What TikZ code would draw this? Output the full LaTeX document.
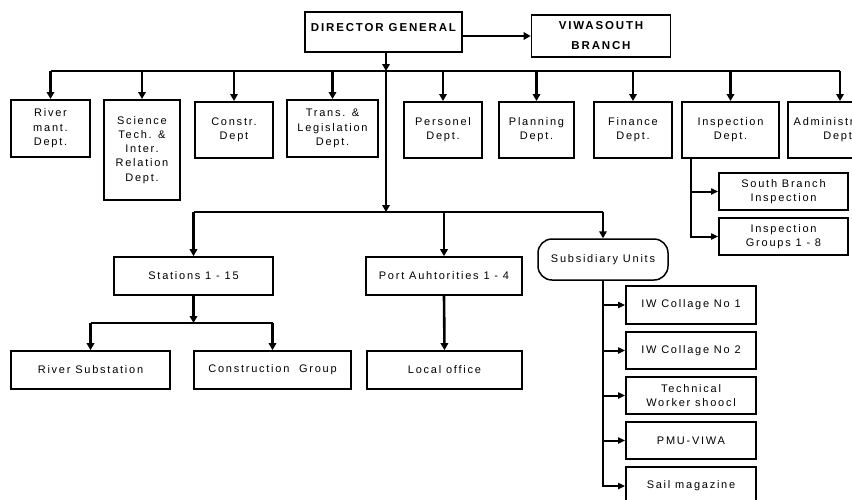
\documentclass[tikz,border=0pt]{standalone}
\usepackage{fontspec}
\setmainfont{Liberation Sans}[LetterSpace=16]
\usetikzlibrary{arrows.meta,positioning}

\begin{document}
\begin{tikzpicture}[x=1pt,y=-1pt,
font=\fontsize{11}{14.3}\selectfont,
box/.style={draw,line width=1.7pt,align=center,inner sep=1pt},
head/.style={box,font=\fontsize{11.5}{20}\selectfont\bfseries},
link/.style={line width=2.6pt,-{Triangle[length=7pt,width=7.5pt]}},
sublink/.style={line width=2pt,-{Triangle[length=7pt,width=6pt]}},
line/.style={line width=2.6pt}]

    \useasboundingbox (0,0) rectangle (852,499);
    \clip (0,0) rectangle (852,499);

    % Draw head boxes
    \node[head,minimum width=157pt,minimum height=40pt,text depth=10pt] (dg) at (383.5,32) {DIRECTOR GENERAL};
    \node[head,minimum width=139pt,minimum height=42pt] (viwa) at (601,36) {VIWASOUTH\\BRANCH};
    \draw[link] (viwa.west -| dg.east) -- (viwa.west);

    \draw
    (386,71) coordinate (trunk)
    (386,212) coordinate (mid);

    % Departments
    \node[box,anchor=north,minimum width=79pt,minimum height=57pt] (river) at (50.5,99) {River\\mant.\\Dept.};
    \node[box,anchor=north,minimum width=76pt,minimum height=100pt] (science) at (142,99) {Science\\Tech. \&\\Inter.\\Relation\\Dept.};
    \node[box,anchor=north,minimum width=78pt,minimum height=56pt] (constr) at (234,101) {Constr.\\Dept};
    \node[box,anchor=north,minimum width=91pt,minimum height=57pt] (trans) at (332.5,99) {Trans. \&\\Legislation\\Dept.};
    \node[box,anchor=north,minimum width=78pt,minimum height=56pt] (person) at (443,101) {Personel\\Dept.};
    \node[box,anchor=north,minimum width=75pt,minimum height=56pt] (plan) at (536.5,101) {Planning\\Dept.};
    \node[box,anchor=north,minimum width=78pt,minimum height=56pt] (finance) at (633,101) {Finance\\Dept.};
    \node[box,anchor=north,minimum width=97pt,minimum height=56pt] (insp) at (730.5,101) {Inspection\\Dept.};
    \node[box,anchor=north,minimum width=104pt,minimum height=56pt] (admin) at (840,101) {Administration\\Dept.};

    \draw[link] (dg.south -| trunk) -- (trunk);
    \draw[line] (river.north |- trunk) -- (admin.north |- trunk);
    \draw[link] (river.north |- trunk) -- (river.north);
    \draw[link] (science.north |- trunk) -- (science.north);
    \draw[link] (constr.north |- trunk) -- (constr.north);
    \draw[link] (trans.north |- trunk) -- (trans.north);
    \draw[link] (person.north |- trunk) -- (person.north);
    \draw[link] (plan.north |- trunk) -- (plan.north);
    \draw[link] (finance.north |- trunk) -- (finance.north);
    \draw[link] (insp.north |- trunk) -- (insp.north);
    \draw[link] (admin.north |- trunk) -- (admin.north);

    % Inspection groups
    \node[box,minimum width=129pt,minimum height=37pt] (sbi) at (783.5,191.5) {South Branch\\Inspection};
    \node[box,minimum width=129pt,minimum height=37pt] (igr) at (783.5,236.5) {Inspection\\Groups 1 - 8};
    \coordinate (idrop) at ([xshift=10pt]insp.south west);
    \draw[sublink] (idrop) |- (sbi.west);
    \draw[sublink] (idrop) |- (igr.west);

    % Second level
    \node[box,minimum width=159pt,minimum height=38pt] (stations) at (193.5,276) {Stations 1 - 15};
    \node[box,minimum width=156pt,minimum height=38pt] (port) at (444,276) {Port Auhtorities 1 - 4};
    \node[draw,line width=1.5pt,rounded corners=14pt,minimum width=130pt,minimum height=41pt] (subs) at (603,259.5) {Subsidiary Units};

    \draw[link] (trunk) -- (mid);
    \draw[line] (stations.north |- mid) -- (subs.north |- mid);
    \draw[link] (stations.north |- mid) -- (stations.north);
    \draw[link] (port.north |- mid) -- (port.north);
    \draw[link] (subs.north |- mid) -- (subs.north);

    % Stations
    \coordinate (sbus) at (193.5,323);
    \node[box,minimum width=159pt,minimum height=38pt] (rsub) at (90.5,370) {River Substation};
    \node[box,minimum width=157pt,minimum height=38pt] (cgroup) at (272.5,370) {Construction~~Group};
    \node[box,minimum width=155pt,minimum height=38pt] (local) at (444.5,370) {Local office};

    \draw[link] (stations.south) -- (sbus);
    \draw[line] (rsub.north |- sbus) -- (cgroup.north |- sbus);
    \draw[link] (rsub.north |- sbus) -- (rsub.north);
    \draw[link] (cgroup.north |- sbus) -- (cgroup.north);
    \draw[link] (port.south) -- (local.north);

    % Subsidiary units
    \node[box,minimum width=130pt,minimum height=38pt] (iw1) at (691,305) {IW Collage No 1};
    \node[box,minimum width=130pt,minimum height=37pt] (iw2) at (691,350.5) {IW Collage No 2};
    \node[box,minimum width=130pt,minimum height=37pt] (tech) at (691,395.5) {Technical\\Worker shoocl};
    \node[box,minimum width=130pt,minimum height=37pt] (pmu) at (691,440.5) {PMU-VIWA};
    \node[box,minimum width=130pt,minimum height=38pt] (sail) at (691,486) {Sail magazine};

    \draw[sublink] (subs.south) |- (iw1.west);
    \draw[sublink] (subs.south) |- (iw2.west);
    \draw[sublink] (subs.south) |- (tech.west);
    \draw[sublink] (subs.south) |- (pmu.west);
    \draw[sublink] (subs.south) |- (sail.west);

\end{tikzpicture}
\end{document}
